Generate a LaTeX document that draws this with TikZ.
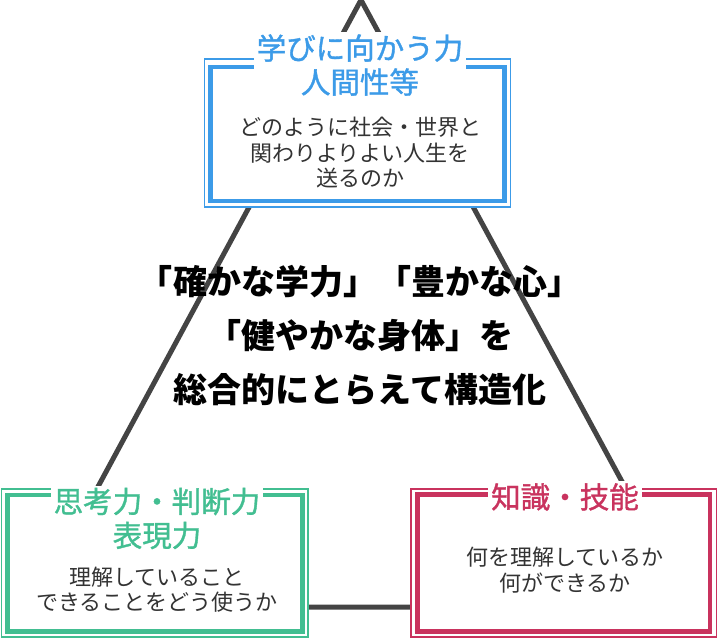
\documentclass[tikz,border=0pt]{standalone}
\usepackage{fontspec}
\newfontfamily\jp{Noto Sans CJK JP}
\newfontfamily\jpm[FakeBold=1.2]{Noto Sans CJK JP}
\definecolor{tblue}{HTML}{3C9BE8}
\definecolor{tgreen}{HTML}{42BE91}
\definecolor{tred}{HTML}{C9335E}
\definecolor{tri}{HTML}{444444}
\definecolor{body}{HTML}{333333}
\tikzset{
  outerbox/.style={draw=#1, line width=1.8bp, fill=white, inner sep=0},
  innerbox/.style={draw=#1, line width=4.5bp, inner sep=0},
  titletext/.style={text=#1, fill=white, inner xsep=3bp, inner ysep=2bp, align=center,
     font=\jpm\fontsize{29.5bp}{34bp}\selectfont},
  bodytext/.style={text=body, inner sep=0, align=center,
     font=\jp\fontsize{22bp}{25.5bp}\selectfont},
  centertext/.style={text=black, inner sep=0, align=center,
     font=\jp\bfseries\fontsize{34bp}{54bp}\selectfont},
  triline/.style={draw=tri, line width=5bp}
}
\begin{document}
\begin{tikzpicture}[x=1bp,y=-1bp]
\useasboundingbox (0,0) rectangle (720,640);
% triangle
\coordinate (apex) at (361,0);
\coordinate (bl) at (33,607);
\coordinate (br) at (690,607);
\draw[triline] (apex) -- (bl) -- (br) -- cycle;
% top box
\node[outerbox=tblue, minimum width=306bp, minimum height=148bp] (tO) at (357.5,133) {};
\node[innerbox=tblue, minimum width=294bp, minimum height=134bp] (tI) at (357.5,134) {};
\node[titletext=tblue] (tT) at (360,65) {学びに向かう力\\人間性等};
\node[bodytext] (tB) at (360,153) {どのように社会・世界と\\関わりよりよい人生を\\送るのか};
% green box
\node[outerbox=tgreen, minimum width=306.5bp, minimum height=148bp] (gO) at (154.75,563) {};
\node[innerbox=tgreen, minimum width=295bp, minimum height=136.5bp] (gI) at (155,563.25) {};
\node[titletext=tgreen] (gT) at (157,518.5) {思考力・判断力\\表現力};
\node[bodytext] (gB) at (157,589.5) {理解していること\\できることをどう使うか};
% red box
\node[outerbox=tred, minimum width=305.5bp, minimum height=148bp] (rO) at (563.75,563) {};
\node[innerbox=tred, minimum width=292.5bp, minimum height=137bp] (rI) at (563.75,563) {};
\node[titletext=tred] (rT) at (565,497) {知識・技能};
\node[bodytext] (rB) at (565,570) {何を理解しているか\\何ができるか};
% center
\node[centertext] (c) at (360,336) {「確かな学力」「豊かな心」\\「健やかな身体」を\\総合的にとらえて構造化};
\end{tikzpicture}
\end{document}
